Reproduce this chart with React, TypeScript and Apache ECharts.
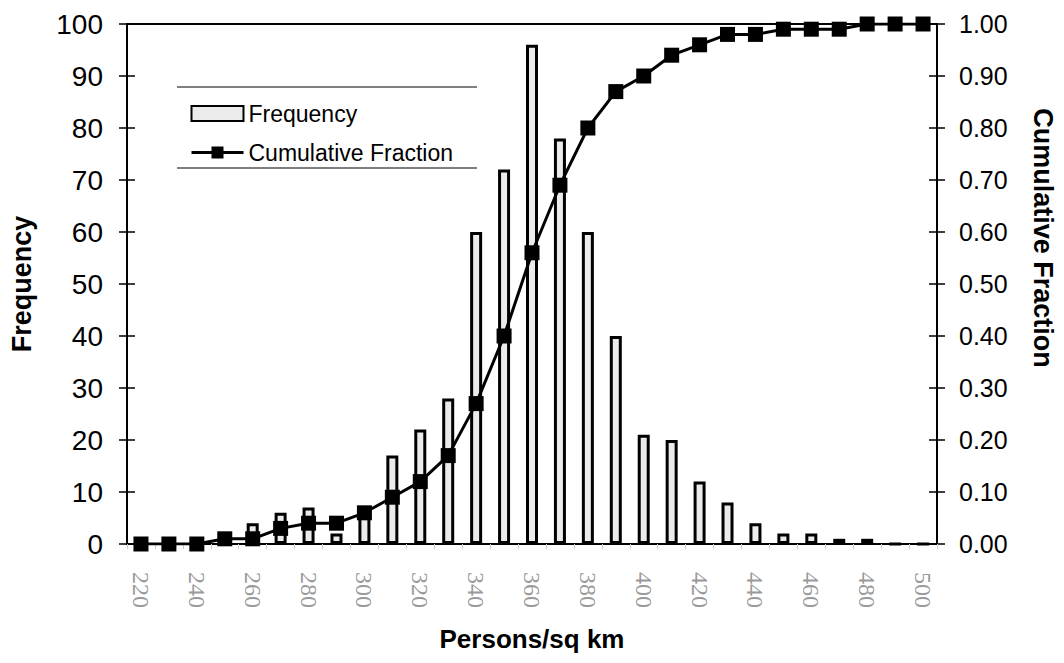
import React, { useEffect, useRef } from "react";
import * as echarts from "echarts";

const categories = [
  "220", "230", "240", "250", "260", "270", "280", "290", "300", "310",
  "320", "330", "340", "350", "360", "370", "380", "390", "400", "410",
  "420", "430", "440", "450", "460", "470", "480", "490", "500",
];
const frequency = [
  1, 1, 1, 2, 4, 6, 7, 2, 6, 17,
  22, 28, 60, 72, 96, 78, 60, 40, 21, 20,
  12, 8, 4, 2, 2, 1, 1, 0, 0,
];
const cumulativeFraction = [
  0.0, 0.0, 0.0, 0.01, 0.01, 0.03, 0.04, 0.04, 0.06, 0.09,
  0.12, 0.17, 0.27, 0.4, 0.56, 0.69, 0.8, 0.87, 0.9, 0.94,
  0.96, 0.98, 0.98, 0.99, 0.99, 0.99, 1.0, 1.0, 1.0,
];
const leftTicks = { min: 0, max: 100, interval: 10 };
const rightTicks = { min: 0, max: 1, interval: 0.1 };

export default function App() {
  const ref = useRef<HTMLDivElement>(null);
  useEffect(() => {
    if (!ref.current) return;
    const chart = echarts.init(ref.current, undefined, { renderer: "svg" });
    const sans = "Liberation Sans, Arial, sans-serif";
    const yBase = {
      type: "value",
      splitLine: { show: false },
      axisLine: { show: true, lineStyle: { color: "#000", width: 2 } },
    };
    chart.setOption({
      animation: false,
      backgroundColor: "#fff",
      grid: {
        left: 124,
        right: 127,
        top: 24,
        bottom: 119,
        show: true,
        borderColor: "#000",
        borderWidth: 2,
      },
      legend: {
        orient: "vertical",
        left: 185,
        top: 97,
        itemWidth: 52,
        itemHeight: 15,
        itemGap: 16,
        textStyle: { fontFamily: sans, fontSize: 23, color: "#000" },
        data: [
          { name: "Frequency", icon: "rect" },
          {
            name: "Cumulative Fraction",
            itemStyle: { color: "#000" },
            lineStyle: { color: "#000", width: 3 },
          },
        ],
      },
      xAxis: {
        type: "category",
        data: categories,
        boundaryGap: true,
        axisLine: { lineStyle: { color: "#000", width: 2 } },
        axisTick: { show: true, interval: 0, length: 5, lineStyle: { color: "#ccc" } },
        axisLabel: {
          interval: 1,
          rotate: -90,
          margin: 28,
          fontFamily: "Liberation Serif, serif",
          fontSize: 24,
          color: "#9a9a9a",
        },
        name: "Persons/sq km",
        nameLocation: "middle",
        nameGap: 82,
        nameTextStyle: { fontFamily: sans, fontSize: 26, fontWeight: "bold", color: "#000" },
      },
      yAxis: [
        {
          ...yBase,
          position: "left",
          ...leftTicks,
          axisTick: { show: true, length: 8, lineStyle: { color: "#000", width: 1.5 } },
          axisLabel: { fontFamily: sans, fontSize: 28, color: "#000", margin: 24 },
          name: "Frequency",
          nameLocation: "middle",
          nameGap: 92,
          nameRotate: 90,
          nameTextStyle: { fontFamily: sans, fontSize: 27, fontWeight: "bold", color: "#000" },
        },
        {
          ...yBase,
          position: "right",
          ...rightTicks,
          axisTick: { show: true, length: 8, lineStyle: { color: "#000", width: 1.5 } },
          axisLabel: {
            fontFamily: sans,
            fontSize: 25,
            color: "#000",
            margin: 22,
            formatter: (v: number) => v.toFixed(2),
          },
        },
        {
          ...yBase,
          position: "left",
          ...leftTicks,
          axisTick: { show: true, inside: true, length: 8, lineStyle: { color: "#000", width: 1.5 } },
          axisLabel: { show: false },
        },
        {
          ...yBase,
          position: "right",
          ...rightTicks,
          axisTick: { show: true, inside: true, length: 8, lineStyle: { color: "#000", width: 1.5 } },
          axisLabel: { show: false },
        },
      ],
      graphic: [
        {
          type: "line",
          shape: { x1: 177, y1: 87, x2: 477, y2: 87 },
          style: { stroke: "#555", lineWidth: 1.5 },
        },
        {
          type: "line",
          shape: { x1: 177, y1: 168, x2: 477, y2: 168 },
          style: { stroke: "#555", lineWidth: 1.5 },
        },
        {
          type: "text",
          x: 1043,
          y: 238,
          rotation: -Math.PI / 2,
          style: {
            text: "Cumulative Fraction",
            fontFamily: sans,
            fontSize: 27,
            fontWeight: "bold",
            fill: "#000",
            textAlign: "center",
            textVerticalAlign: "middle",
          },
        },
      ],
      series: [
        {
          name: "Frequency",
          type: "bar",
          yAxisIndex: 0,
          data: frequency,
          barWidth: 12,
          itemStyle: { color: "#ebebeb", borderColor: "#000", borderWidth: 3 },
        },
        {
          name: "Cumulative Fraction",
          type: "line",
          yAxisIndex: 1,
          data: cumulativeFraction,
          symbol: "rect",
          symbolSize: 15,
          lineStyle: { color: "#000", width: 3 },
          itemStyle: { color: "#000" },
          z: 5,
        },
      ],
    });
    return () => chart.dispose();
  }, []);
  return (
    <div
      ref={ref}
      style={{ position: "fixed", left: 0, top: 0, width: 1064, height: 663, background: "#fff" }}
    />
  );
}
